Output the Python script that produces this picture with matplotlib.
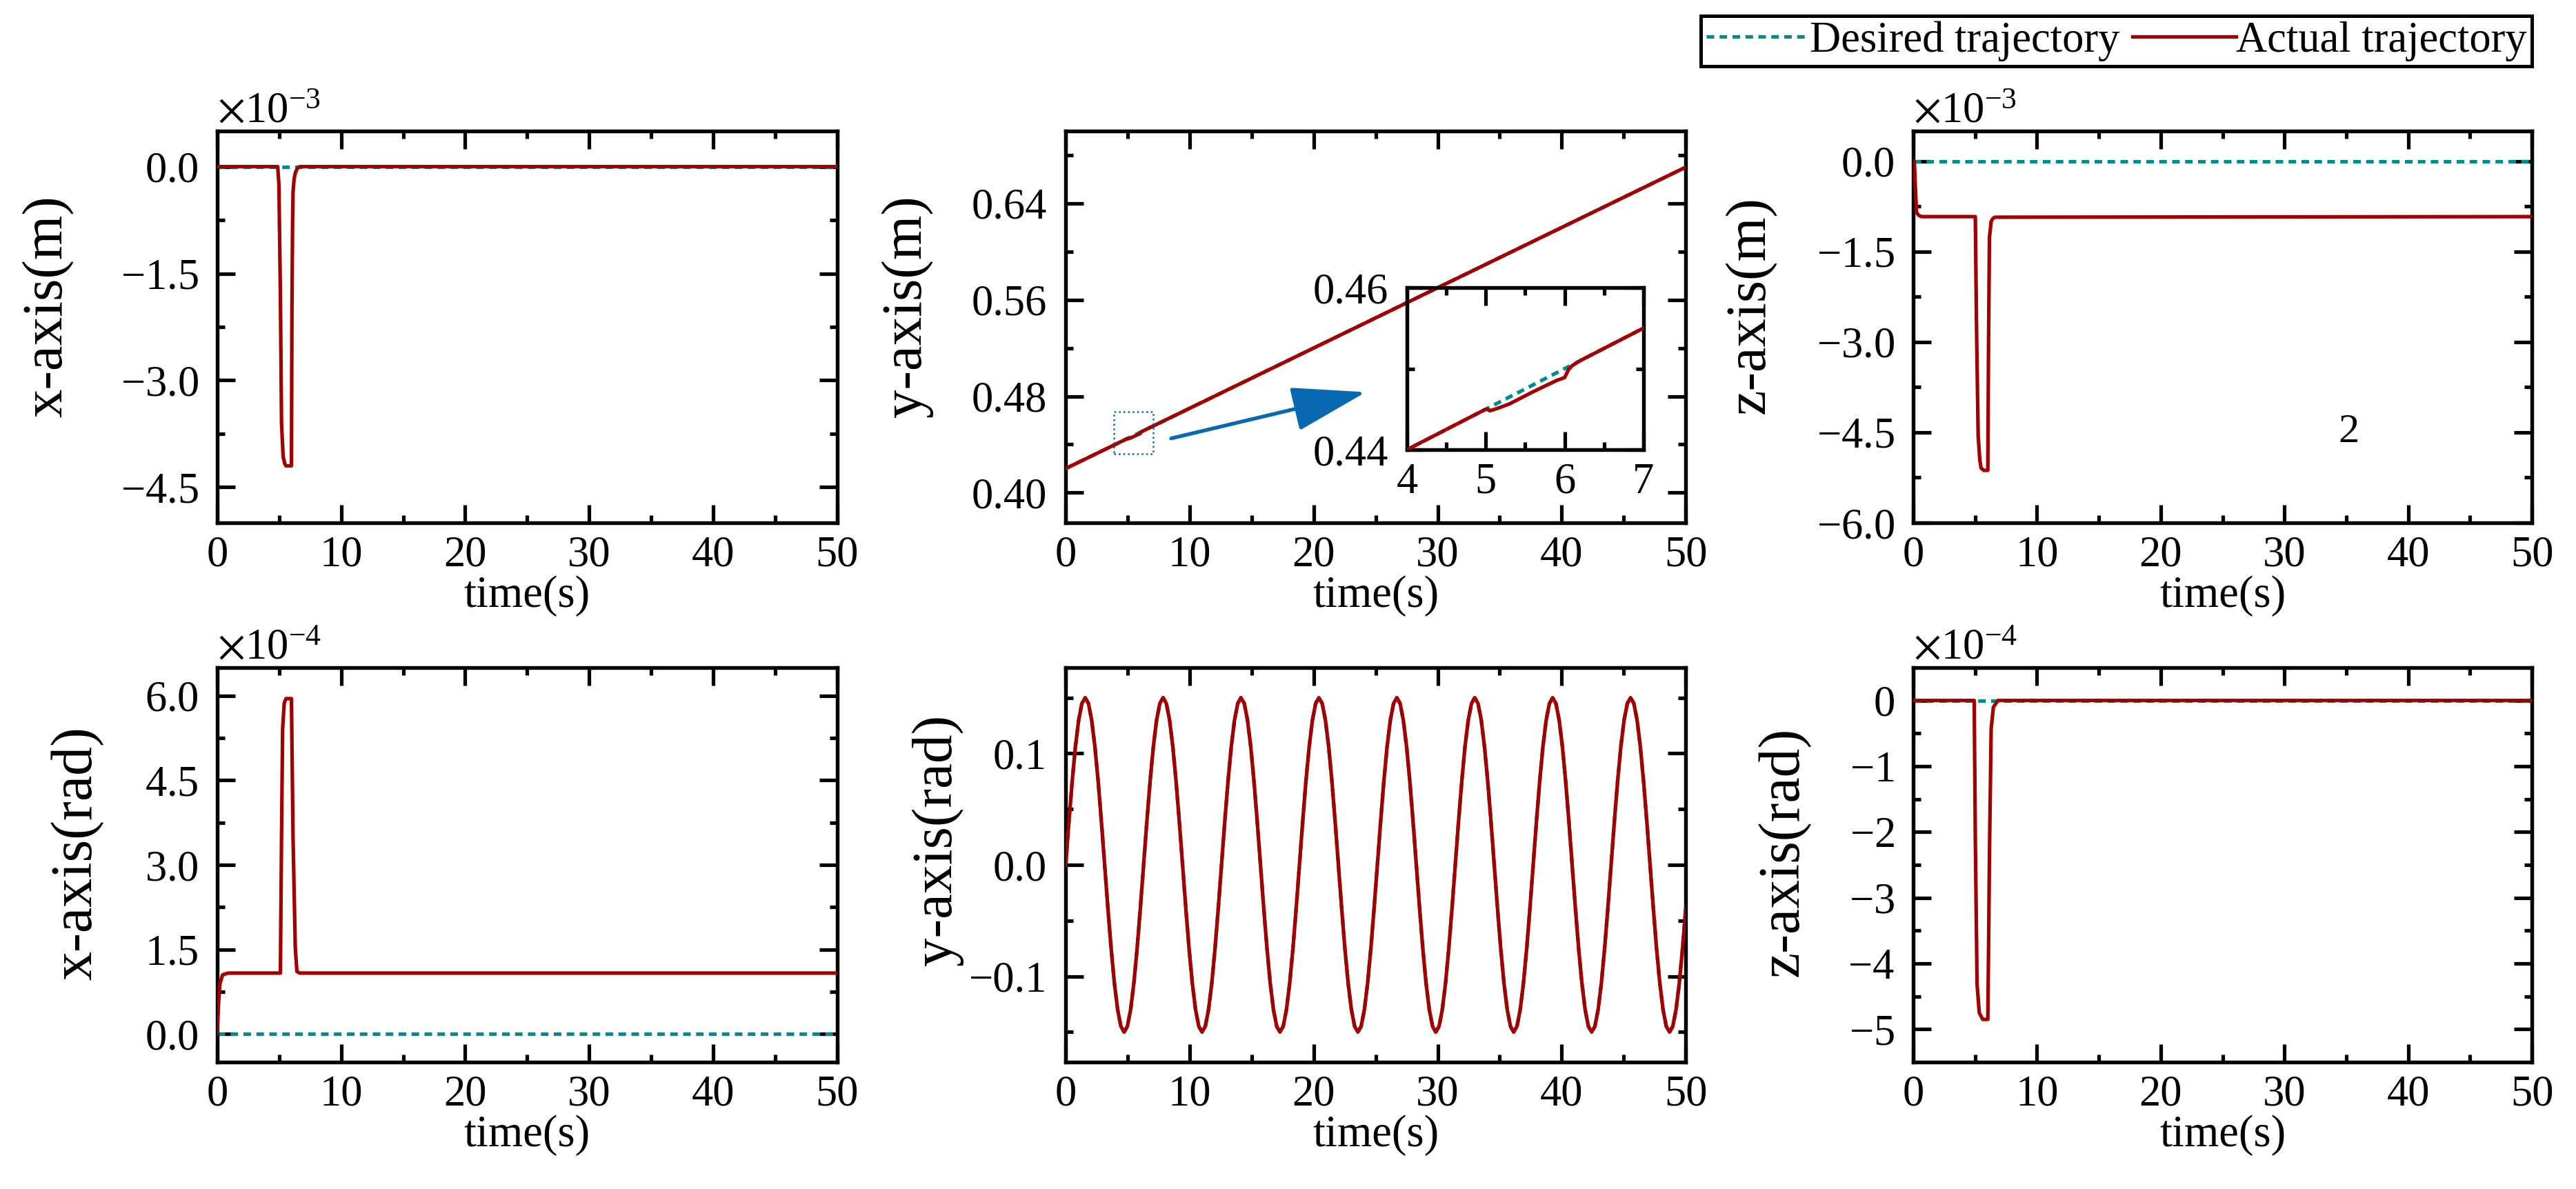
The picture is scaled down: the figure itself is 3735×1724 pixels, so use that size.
import matplotlib
matplotlib.use("Agg")
import matplotlib.pyplot as plt
import numpy as np
from matplotlib.ticker import MultipleLocator, FixedLocator, ScalarFormatter, FormatStrFormatter
from matplotlib.patches import Rectangle

plt.rcParams['font.family'] = ['Liberation Serif', 'DejaVu Serif']
plt.rcParams['mathtext.fontset'] = 'stix'
plt.rcParams['axes.linewidth'] = 1.3
plt.rcParams['xtick.direction'] = 'in'
plt.rcParams['ytick.direction'] = 'in'
plt.rcParams['xtick.top'] = True
plt.rcParams['ytick.right'] = True
plt.rcParams['xtick.major.size'] = 6.2
plt.rcParams['ytick.major.size'] = 6.2
plt.rcParams['xtick.minor.size'] = 2.6
plt.rcParams['ytick.minor.size'] = 2.6
plt.rcParams['xtick.major.width'] = 1.25
plt.rcParams['ytick.major.width'] = 1.25
plt.rcParams['xtick.minor.width'] = 1.25
plt.rcParams['ytick.minor.width'] = 1.25
plt.rcParams['xtick.labelsize'] = 15
plt.rcParams['ytick.labelsize'] = 15
plt.rcParams['xtick.major.pad'] = 4.5
plt.rcParams['ytick.major.pad'] = 6.5

RED = '#A00000'
TEAL = '#008B8B'
BLUE = '#0868B0'
LW = 1.25

# ---- data ----
t_flat = [0, 50]
zero_flat = [0, 0]

# x-axis position, units of 1e-3 m
t_xm = [0, 4.88, 4.98, 5.10, 5.19, 5.32, 5.45, 5.55, 5.99, 6.03, 6.08, 6.12, 6.20, 6.30, 6.45, 6.65, 50]
v_xm = [0, 0, -0.25, -1.8, -3.6, -4.07, -4.17, -4.2, -4.2, -2.04, -0.8, -0.36, -0.18, -0.09, -0.03, 0, 0]

# y-axis position, m
ym_des = [0.42, 0.67]
t_ym = [0, 4.99, 5.02, 5.05, 5.15, 5.30, 5.60, 5.90, 6.00, 6.05, 6.10, 6.20, 50]
v_ym = [0.42, 0.44495, 0.4450, 0.4448, 0.4451, 0.44565, 0.44715, 0.44855, 0.4489, 0.4499, 0.4504, 0.4510, 0.67]

# z-axis position, units of 1e-3 m
t_zm = [0, 0.09, 0.18, 0.27, 0.45, 0.68, 5.02, 5.12, 5.25, 5.38, 5.48, 5.70, 6.03, 6.09, 6.16, 6.30, 6.45, 6.60, 50]
v_zm = [0, 0, -0.45, -0.85, -0.9, -0.92, -0.92, -2.8, -4.56, -4.95, -5.09, -5.13, -5.13, -3.0, -1.27, -1.0, -0.95, -0.93, -0.92]

# x-axis attitude, units of 1e-4 rad
t_xr = [0, 0.1, 0.22, 0.44, 0.89, 5.10, 5.19, 5.28, 5.41, 5.55, 5.99, 6.05, 6.12, 6.30, 6.43, 6.65, 50]
v_xr = [0, 0.5, 0.89, 1.05, 1.08, 1.08, 3.48, 5.42, 5.87, 5.95, 5.95, 4.8, 3.48, 1.53, 1.11, 1.08, 1.08]

# y-axis attitude, rad
t_yr = [
    0.000, 0.262, 0.524, 0.785, 1.047, 1.309, 1.571, 1.833, 2.094, 2.356, 2.618, 2.880,
    3.142, 3.403, 3.665, 3.927, 4.189, 4.451, 4.712, 4.974, 5.236, 5.498, 5.760, 6.021,
    6.283, 6.545, 6.807, 7.069, 7.330, 7.592, 7.854, 8.116, 8.378, 8.639, 8.901, 9.163,
    9.425, 9.687, 9.948, 10.210, 10.472, 10.734, 10.996, 11.257, 11.519, 11.781, 12.043, 12.305,
    12.566, 12.828, 13.090, 13.352, 13.614, 13.875, 14.137, 14.399, 14.661, 14.923, 15.184, 15.446,
    15.708, 15.970, 16.232, 16.493, 16.755, 17.017, 17.279, 17.541, 17.802, 18.064, 18.326, 18.588,
    18.850, 19.111, 19.373, 19.635, 19.897, 20.159, 20.420, 20.682, 20.944, 21.206, 21.468, 21.729,
    21.991, 22.253, 22.515, 22.777, 23.038, 23.300, 23.562, 23.824, 24.086, 24.347, 24.609, 24.871,
    25.133, 25.395, 25.656, 25.918, 26.180, 26.442, 26.704, 26.965, 27.227, 27.489, 27.751, 28.013,
    28.274, 28.536, 28.798, 29.060, 29.322, 29.583, 29.845, 30.107, 30.369, 30.631, 30.892, 31.154,
    31.416, 31.678, 31.940, 32.201, 32.463, 32.725, 32.987, 33.249, 33.510, 33.772, 34.034, 34.296,
    34.558, 34.819, 35.081, 35.343, 35.605, 35.867, 36.128, 36.390, 36.652, 36.914, 37.176, 37.437,
    37.699, 37.961, 38.223, 38.485, 38.746, 39.008, 39.270, 39.532, 39.794, 40.055, 40.317, 40.579,
    40.841, 41.103, 41.364, 41.626, 41.888, 42.150, 42.412, 42.673, 42.935, 43.197, 43.459, 43.721,
    43.982, 44.244, 44.506, 44.768, 45.029, 45.291, 45.553, 45.815, 46.077, 46.338, 46.600, 46.862,
    47.124, 47.386, 47.647, 47.909, 48.171, 48.433, 48.695, 48.956, 49.218, 49.480, 49.742, 50.000,
]
v_yr = [
    0, 0.0388, 0.075, 0.1061, 0.1299, 0.1449, 0.15, 0.1449, 0.1299, 0.1061, 0.075, 0.0388,
    0, -0.0388, -0.075, -0.1061, -0.1299, -0.1449, -0.15, -0.1449, -0.1299, -0.1061, -0.075, -0.0388,
    0, 0.0388, 0.075, 0.1061, 0.1299, 0.1449, 0.15, 0.1449, 0.1299, 0.1061, 0.075, 0.0388,
    0, -0.0388, -0.075, -0.1061, -0.1299, -0.1449, -0.15, -0.1449, -0.1299, -0.1061, -0.075, -0.0388,
    0, 0.0388, 0.075, 0.1061, 0.1299, 0.1449, 0.15, 0.1449, 0.1299, 0.1061, 0.075, 0.0388,
    0, -0.0388, -0.075, -0.1061, -0.1299, -0.1449, -0.15, -0.1449, -0.1299, -0.1061, -0.075, -0.0388,
    0, 0.0388, 0.075, 0.1061, 0.1299, 0.1449, 0.15, 0.1449, 0.1299, 0.1061, 0.075, 0.0388,
    0, -0.0388, -0.075, -0.1061, -0.1299, -0.1449, -0.15, -0.1449, -0.1299, -0.1061, -0.075, -0.0388,
    0, 0.0388, 0.075, 0.1061, 0.1299, 0.1449, 0.15, 0.1449, 0.1299, 0.1061, 0.075, 0.0388,
    0, -0.0388, -0.075, -0.1061, -0.1299, -0.1449, -0.15, -0.1449, -0.1299, -0.1061, -0.075, -0.0388,
    0, 0.0388, 0.075, 0.1061, 0.1299, 0.1449, 0.15, 0.1449, 0.1299, 0.1061, 0.075, 0.0388,
    0, -0.0388, -0.075, -0.1061, -0.1299, -0.1449, -0.15, -0.1449, -0.1299, -0.1061, -0.075, -0.0388,
    0, 0.0388, 0.075, 0.1061, 0.1299, 0.1449, 0.15, 0.1449, 0.1299, 0.1061, 0.075, 0.0388,
    0, -0.0388, -0.075, -0.1061, -0.1299, -0.1449, -0.15, -0.1449, -0.1299, -0.1061, -0.075, -0.0388,
    0, 0.0388, 0.075, 0.1061, 0.1299, 0.1449, 0.15, 0.1449, 0.1299, 0.1061, 0.075, 0.0388,
    0, -0.0388, -0.075, -0.1061, -0.1299, -0.1449, -0.15, -0.1449, -0.1299, -0.1061, -0.075, -0.0393,
]

# z-axis attitude, units of 1e-4 rad
t_zr = [0, 4.93, 5.02, 5.16, 5.34, 5.62, 6.03, 6.10, 6.16, 6.30, 6.48, 6.85, 50]
v_zr = [0, 0, -2.09, -4.31, -4.75, -4.85, -4.85, -3.6, -2.37, -0.43, -0.10, 0, 0]

labels = ['Desired trajectory', 'Actual trajectory']

fig = plt.figure(figsize=(12.45, 5.7467), dpi=300)

col_x = [0.0843, 0.4137, 0.7427]
col_w = [0.2407, 0.2407, 0.2402]
row_y = [0.5603, 0.1067]
row_h = [0.3295, 0.3318]


def make_ax(r, c):
    return fig.add_axes([col_x[c], row_y[r], col_w[c], row_h[r]])


def draw(ax, t_des, v_des, t_act, v_act, scale=1.0):
    ld, = ax.plot(t_des, np.array(v_des) * scale, color=TEAL, lw=LW,
                  ls=(0, (2.1, 1.5)), zorder=2)
    la, = ax.plot(t_act, np.array(v_act) * scale, color=RED, lw=LW, zorder=3)
    return ld, la


def style(ax, ylim, ymaj, ymin, ylabel, lab_xy, sci=False):
    ax.set_xlim(0, 50)
    ax.xaxis.set_major_locator(MultipleLocator(10))
    ax.xaxis.set_minor_locator(MultipleLocator(5))
    ax.set_ylim(*ylim)
    ax.yaxis.set_major_locator(FixedLocator(ymaj))
    ax.yaxis.set_minor_locator(FixedLocator(ymin))
    if sci:
        fmt = ScalarFormatter(useMathText=True)
        fmt.set_powerlimits((0, 0))
        ax.yaxis.set_major_formatter(fmt)
        ax.yaxis.get_offset_text().set_fontsize(15)
    ax.set_xlabel('time(s)', fontsize=15.5, labelpad=0)
    ax.set_ylabel(ylabel, fontsize=19.5)
    ax.yaxis.set_label_coords(*lab_xy)


# top-left: x position
ax1 = make_ax(0, 0)
l_des, l_act = draw(ax1, t_flat, zero_flat, t_xm, v_xm, 1e-3)
style(ax1, (-5.0e-3, 0.5e-3), [0, -1.5e-3, -3.0e-3, -4.5e-3],
      [-0.75e-3, -2.25e-3, -3.75e-3], 'x-axis(m)', (-0.231, 0.553), sci=True)

# top-middle: y position
ax2 = make_ax(0, 1)
draw(ax2, t_flat, ym_des, t_ym, v_ym)
style(ax2, (0.375, 0.70), [0.40, 0.48, 0.56, 0.64], [0.44, 0.52, 0.60, 0.68],
      'y-axis(m)', (-0.2136, 0.553))
ax2.yaxis.set_major_formatter(FormatStrFormatter('%.2f'))
ax2.add_patch(Rectangle((3.9, 0.432), 3.15, 0.035, fill=False, ls=':', lw=0.6,
                        ec=BLUE, zorder=4))
ax2.annotate('', xy=(24.2, 0.4834), xytext=(8.5, 0.445),
             arrowprops=dict(arrowstyle='-|>,head_length=1.5,head_width=0.45',
                             mutation_scale=15, lw=1.3, color=BLUE,
                             shrinkA=0, shrinkB=0))

axin = fig.add_axes([0.5462, 0.6218, 0.0918, 0.1363])
axin.set_facecolor('none')
draw(axin, t_flat, ym_des, t_ym, v_ym)
axin.set_xlim(4, 7)
axin.set_ylim(0.44, 0.46)
axin.xaxis.set_major_locator(MultipleLocator(1))
axin.xaxis.set_minor_locator(MultipleLocator(0.5))
axin.yaxis.set_major_locator(FixedLocator([0.44, 0.46]))
axin.yaxis.set_minor_locator(FixedLocator([0.45]))
axin.yaxis.set_major_formatter(FormatStrFormatter('%.2f'))

# top-right: z position
ax3 = make_ax(0, 2)
draw(ax3, t_flat, zero_flat, t_zm, v_zm, 1e-3)
style(ax3, (-6.0e-3, 0.5e-3), [0, -1.5e-3, -3.0e-3, -4.5e-3, -6.0e-3],
      [-0.75e-3, -2.25e-3, -3.75e-3, -5.25e-3], 'z-axis(m)', (-0.2207, 0.556), sci=True)
ax3.text(35.2, -4.5e-3, '2', ha='center', va='center', fontsize=14.5)

# bottom-left: x attitude
ax4 = make_ax(1, 0)
draw(ax4, t_flat, zero_flat, t_xr, v_xr, 1e-4)
style(ax4, (-0.5e-4, 6.5e-4), [0, 1.5e-4, 3.0e-4, 4.5e-4, 6.0e-4],
      [0.75e-4, 2.25e-4, 3.75e-4, 5.25e-4], 'x-axis(rad)', (-0.183, 0.529), sci=True)

# bottom-middle: y attitude
ax5 = make_ax(1, 1)
draw(ax5, t_yr, v_yr, t_yr, v_yr)
style(ax5, (-0.177, 0.177), [-0.1, 0.0, 0.1], [-0.15, -0.05, 0.05, 0.15],
      'y-axis(rad)', (-0.165, 0.563))

# bottom-right: z attitude
ax6 = make_ax(1, 2)
draw(ax6, t_flat, zero_flat, t_zr, v_zr, 1e-4)
style(ax6, (-5.5e-4, 0.5e-4), [0, -1e-4, -2e-4, -3e-4, -4e-4, -5e-4],
      [-0.5e-4, -1.5e-4, -2.5e-4, -3.5e-4, -4.5e-4], 'z-axis(rad)', (-0.166, 0.533), sci=True)

leg = fig.legend([l_des, l_act], labels, loc='upper right',
                 bbox_to_anchor=(0.9829, 0.9867), ncol=2, frameon=True,
                 fancybox=False, edgecolor='black', framealpha=1,
                 handlelength=2.4, handletextpad=0.0, columnspacing=0.3,
                 borderpad=0.12, borderaxespad=0, fontsize=15)
leg.get_frame().set_linewidth(1.2)

# size the y labels so their length matches the reference (pixels)
label_len = {ax1: 322, ax2: 322, ax3: 316, ax4: 368, ax5: 364, ax6: 362}
fig.canvas.draw()
rend = fig.canvas.get_renderer()
for ax, target in label_len.items():
    lab = ax.yaxis.label
    h = lab.get_window_extent(rend).height
    lab.set_fontsize(lab.get_fontsize() * target / h)

fig.savefig('out.png', dpi=300)
